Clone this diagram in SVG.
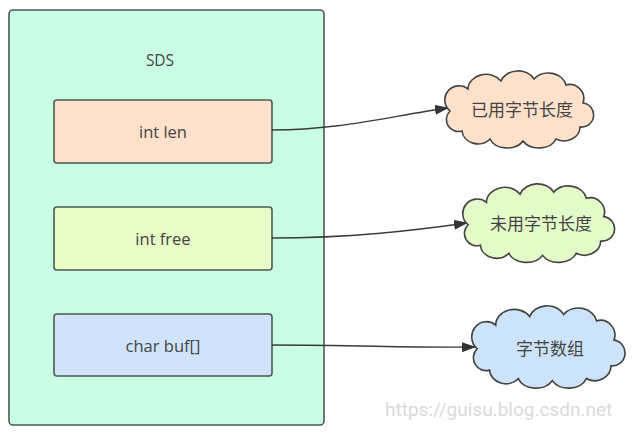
<svg xmlns="http://www.w3.org/2000/svg" width="640" height="435" viewBox="0 0 640 435">
<style>
.box{stroke:#4b5a52;stroke-width:1.6}
.lbl{font-family:"Open Sans","Noto Sans",sans-serif;font-size:16.5px;fill:#444;text-anchor:middle;dominant-baseline:central}
.cn{font-family:"Noto Sans CJK SC",sans-serif;font-size:17px;fill:#444;text-anchor:middle;dominant-baseline:central}
.cloud{stroke:#444;stroke-width:1.6}
.conn{fill:none;stroke:#3a3a3a;stroke-width:1.4}
</style>
<defs>
<marker id="arr" markerWidth="14" markerHeight="10" refX="13" refY="5" orient="auto" markerUnits="userSpaceOnUse">
<path d="M0,0 L14,5 L0,10 Z" fill="#333"/>
</marker>
<path id="cloudShape" d="M 4,38 A 14,14 0 0 1 22,16 A 18,15 0 0 1 55,8 A 18,15 0 0 1 88,6 A 18,15 0 0 1 120,12 A 14,14 0 0 1 137,30 A 12,12 0 0 1 134,54 A 16,14 0 0 1 110,66 A 18,13 0 0 1 77,68 A 18,13 0 0 1 44,66 A 16,14 0 0 1 16,58 A 12,12 0 0 1 4,38 Z"/>
</defs>
<rect width="640" height="435" fill="#ffffff"/>
<g id="sds">
<rect class="box" x="9" y="10" width="315" height="415" rx="4" fill="#c9fde4"/>
<text class="lbl" x="160" y="60" style="font-size:15.5px">SDS</text>
</g>
<g id="len">
<rect class="box" x="54" y="100" width="218" height="63" rx="3" fill="#ffe1cc"/>
<text class="lbl" x="163" y="131">int len</text>
</g>
<g id="free">
<rect class="box" x="54" y="207" width="218" height="63" rx="3" fill="#e8fcc8"/>
<text class="lbl" x="163" y="238">int free</text>
</g>
<g id="buf">
<rect class="box" x="54" y="314" width="218" height="62" rx="3" fill="#cfe4fb"/>
<text class="lbl" x="163" y="345">char buf[]</text>
</g>
<g id="connectors">
<path class="conn" d="M272,130 C340,130 390,116 448,108" marker-end="url(#arr)"/>
<path class="conn" d="M272,238 C350,238 410,231 467,223" marker-end="url(#arr)"/>
<path class="conn" d="M272,345 C360,345 410,348 475,347" marker-end="url(#arr)"/>
</g>
<g id="cloud1">
<use href="#cloudShape" class="cloud" fill="#fde1cb" transform="translate(446,73)"/>
<text class="cn" x="522" y="108">已用字节长度</text>
</g>
<g id="cloud2">
<use href="#cloudShape" class="cloud" fill="#e2fbc9" transform="translate(464,186) scale(1.02,1.02)"/>
<text class="cn" x="541" y="222">未用字节长度</text>
</g>
<g id="cloud3">
<use href="#cloudShape" class="cloud" fill="#cce3fa" transform="translate(473,308) scale(1.03,1.07)"/>
<text class="cn" x="550" y="347">字节数组</text>
</g>
<text x="385" y="416" font-family="Roboto,'Liberation Sans',sans-serif" font-size="19" fill="#dadada">https://guisu.blog.csdn.net</text>
</svg>
